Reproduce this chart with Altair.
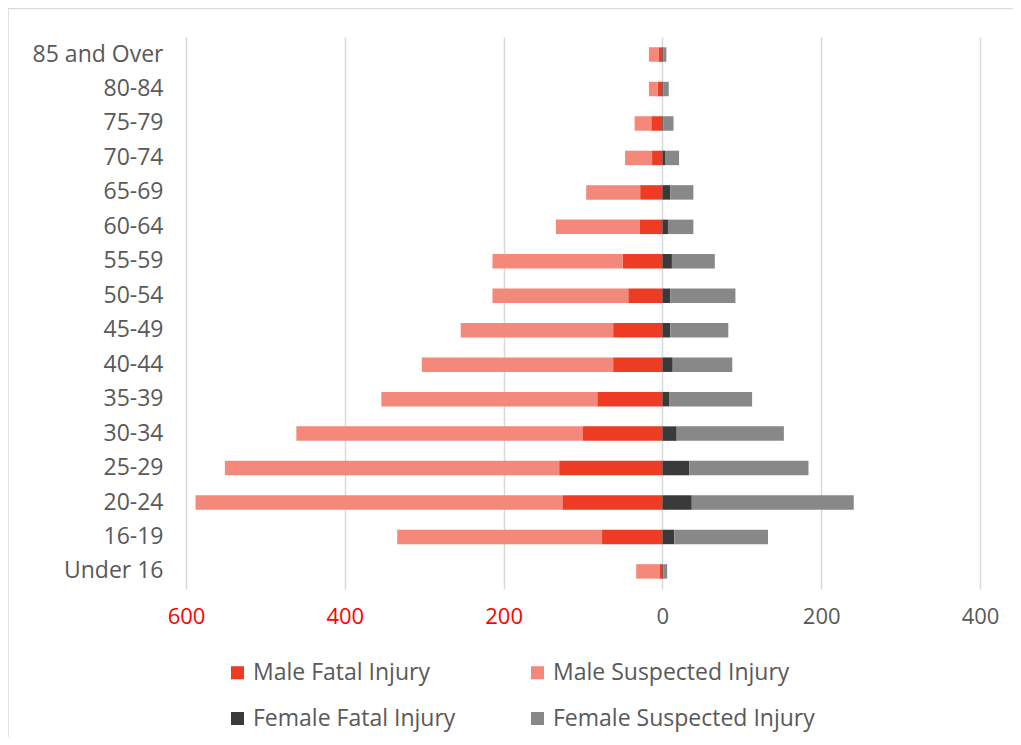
import altair as alt
import pandas as pd

ages = ["85 and Over", "80-84", "75-79", "70-74", "65-69", "60-64", "55-59", "50-54",
        "45-49", "40-44", "35-39", "30-34", "25-29", "20-24", "16-19", "Under 16"]
male_fatal = [5, 6, 14, 13, 28, 29, 50, 43, 62, 62, 82, 100, 130, 126, 76, 3]
male_suspected = [12, 11, 21, 34, 68, 105, 164, 171, 192, 241, 272, 361, 421, 462, 258, 30]
female_fatal = [1, 1, 1, 4, 10, 7, 12, 10, 10, 13, 9, 18, 34, 37, 15, 1]
female_suspected = [4, 7, 13, 17, 29, 32, 54, 82, 73, 75, 104, 135, 150, 204, 118, 5]

series = ["Male Fatal Injury", "Male Suspected Injury", "Female Fatal Injury", "Female Suspected Injury"]
colors = ["#EE3B24", "#F4887A", "#3A3A3A", "#888888"]

rows = []
for i, a in enumerate(ages):
    rows.append({"age": a, "series": series[0], "value": -male_fatal[i], "ord": 0})
    rows.append({"age": a, "series": series[1], "value": -male_suspected[i], "ord": 1})
    rows.append({"age": a, "series": series[2], "value": female_fatal[i], "ord": 0})
    rows.append({"age": a, "series": series[3], "value": female_suspected[i], "ord": 1})
df = pd.DataFrame(rows)

FONT = "Open Sans"

bars = alt.Chart(df).mark_bar().encode(
    y=alt.Y("age:N", sort=ages, title=None,
            scale=alt.Scale(paddingInner=0.58, paddingOuter=0.3),
            axis=alt.Axis(labelFontSize=23, labelColor="#595959", labelPadding=23,
                          ticks=False, domain=False, grid=False, labelFont=FONT)),
    x=alt.X("value:Q", stack="zero", title=None,
            scale=alt.Scale(domain=[-600, 400], nice=False),
            axis=alt.Axis(values=[-600, -400, -200, 0, 200, 400],
                          labelExpr="abs(datum.value)",
                          labelColor=alt.expr("datum.value < 0 ? '#FF0000' : '#595959'"),
                          labelFontSize=22, labelPadding=17, labelFont=FONT,
                          ticks=False, domain=False, grid=True,
                          gridColor="#D9D9D9", gridWidth=1.5, labelFlush=False)),
    color=alt.Color("series:N", scale=alt.Scale(domain=series, range=colors),
                    legend=alt.Legend(title=None, orient="none", legendX=40, legendY=624,
                                      direction="horizontal",
                                      columns=2, symbolType="square", symbolSize=170,
                                      symbolStrokeWidth=0, labelFontSize=23,
                                      labelColor="#595959", labelFont=FONT,
                                      columnPadding=70, rowPadding=22, labelLimit=300)),
    order=alt.Order("ord:Q"),
)

frame_src = pd.DataFrame({"k": [0]})
frame_top = alt.Chart(frame_src).mark_rule(color="#D9D9D9", strokeWidth=1.5).encode(
    x=alt.value(-178), x2=alt.value(830), y=alt.value(-28.5))
frame_left = alt.Chart(frame_src).mark_rule(color="#D9D9D9", strokeWidth=1.5).encode(
    x=alt.value(-178), y=alt.value(-28.5), y2=alt.value(710))

chart = alt.layer(bars, frame_top, frame_left).properties(
    width=794, height=552,
    padding={"left": 178, "top": 29, "right": 33, "bottom": 148},
    autosize=alt.AutoSizeParams(type="none"),
).configure_view(stroke=None)

chart.save("out.html", embed_options={"renderer": "svg", "actions": False})
